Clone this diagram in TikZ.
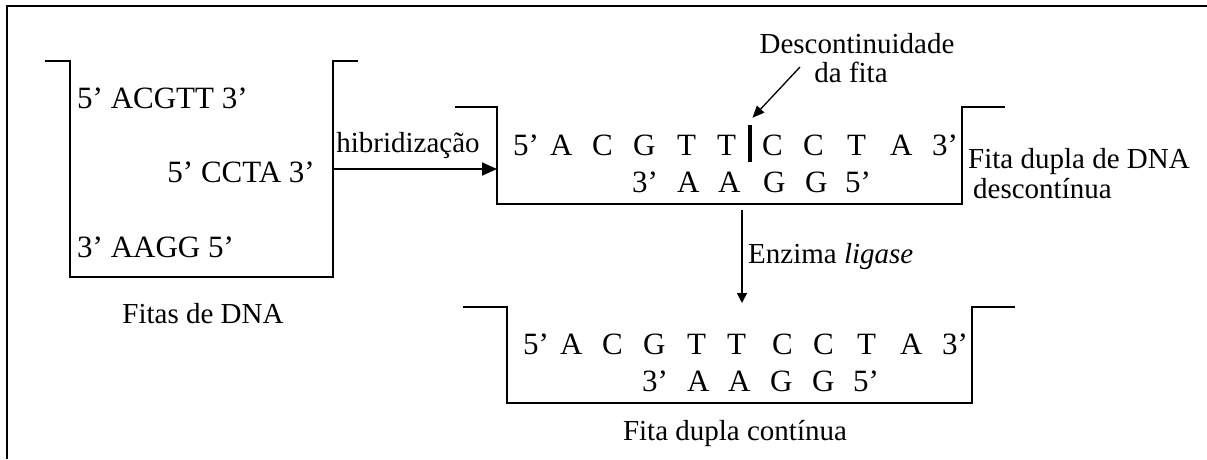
\documentclass[tikz,border=0pt]{standalone}
\usepackage{fontspec}
\setmainfont{Liberation Serif}
\usetikzlibrary{arrows.meta}
\begin{document}
\begin{tikzpicture}[x=1pt,y=-1pt,
  wall/.style={line width=2pt},
  tray/.style={draw=none,shape=rectangle,inner sep=0pt,outer sep=0pt},
  seq/.style={inner sep=0pt,anchor=base west,font=\fontsize{31}{37}\selectfont},
  lbl/.style={inner sep=0pt,font=\fontsize{29}{35}\selectfont},
  bigarrow/.style={line width=1.8pt,-{Triangle[length=15pt,width=13pt]}},
  thinarrow/.style={line width=1.3pt,-{Triangle[length=12pt,width=10pt]}},
  ligarrow/.style={line width=1.5pt,-{Triangle[length=10pt,width=10pt]}}]
\useasboundingbox (0,0) rectangle (1207,459);

% outer frame (top and left edges only)
\draw[line width=2pt] (7,459) -- (7,6) -- (1207,6);

% the three trays
\node[tray,minimum width=263pt,minimum height=216pt] (tray1) at (201.5,169) {};
\node[tray,minimum width=465pt,minimum height=97pt] (tray2) at (729.5,155.5) {};
\node[tray,minimum width=465pt,minimum height=96pt] (tray3) at (739.5,355) {};

\draw[wall] ([xshift=-25pt]tray1.north west) -- (tray1.north west) -- (tray1.south west)
  -- (tray1.south east) -- (tray1.north east) -- ([xshift=25pt]tray1.north east);
\draw[wall] ([xshift=-42pt]tray2.north west) -- (tray2.north west) -- (tray2.south west)
  -- (tray2.south east) -- (tray2.north east) -- ([xshift=43pt]tray2.north east);
\draw[wall] ([xshift=-44pt]tray3.north west) -- (tray3.north west) -- (tray3.south west)
  -- (tray3.south east) -- (tray3.north east) -- ([xshift=43pt]tray3.north east);

% single strands
\node[seq] (s1) at (77,108) {5’ ACGTT 3’};
\node[seq,anchor=base east] (s2) at (315,182) {5’ CCTA 3’};
\node[seq] (s3) at (77,257) {3’ AAGG 5’};
\node[lbl,anchor=base] (fitas) at (203,323) {Fitas de DNA};

% nicked double strand
\begin{scope}[shift={(tray2.north west)}]
  \foreach \dx/\t [count=\i] in {16/5’,53/A,95/C,136/G,180/T,220/T,265/C,306/C,350/T,393/A,435/3’}
    \node[seq] (n1-\i) at (\dx,48) {\t};
  \foreach \dx/\t [count=\i] in {135/3’,180/A,221/A,266/G,308/G,348/5’}
    \node[seq] (n2-\i) at (\dx,85) {\t};
\end{scope}
\node[fill=black,inner sep=0pt,minimum width=4.5pt,minimum height=37pt] (nick) at (750,143.5) {};

% continuous double strand
\begin{scope}[shift={(tray3.north west)}]
  \foreach \dx/\t [count=\i] in {16/5’,53/A,95/C,136/G,180/T,220/T,265/C,306/C,350/T,393/A,435/3’}
    \node[seq] (c1-\i) at (\dx,47) {\t};
  \foreach \dx/\t [count=\i] in {135/3’,180/A,221/A,263/G,305/G,346/5’}
    \node[seq] (c2-\i) at (\dx,84) {\t};
\end{scope}

% labels
\node[lbl,anchor=base] (hib) at (408,152) {hibridização};
\node[lbl,anchor=base] (desc) at (857,53) {Descontinuidade};
\node[lbl,anchor=base] (dafita) at (851,82) {da fita};
\node[lbl,anchor=base west] (dupla) at (968,168) {Fita dupla de DNA};
\node[lbl,anchor=base west] (descont) at (973,198) {descontínua};
\node[lbl,anchor=base west] (enz) at (748,263) {Enzima \textit{ligase}};
\node[lbl,anchor=base] (cont) at (735,440) {Fita dupla contínua};

% connectors
\draw[bigarrow] (tray1.east) -- (tray1.east -| tray2.west);
\coordinate (desc-tail) at (800,67);
\draw[thinarrow] (desc-tail) -- ([yshift=7pt]nick.north east);
\coordinate (lig-top) at (742,210);
\draw[ligarrow,shorten >=4pt] (lig-top) -- (lig-top |- tray3.north);
\end{tikzpicture}
\end{document}
